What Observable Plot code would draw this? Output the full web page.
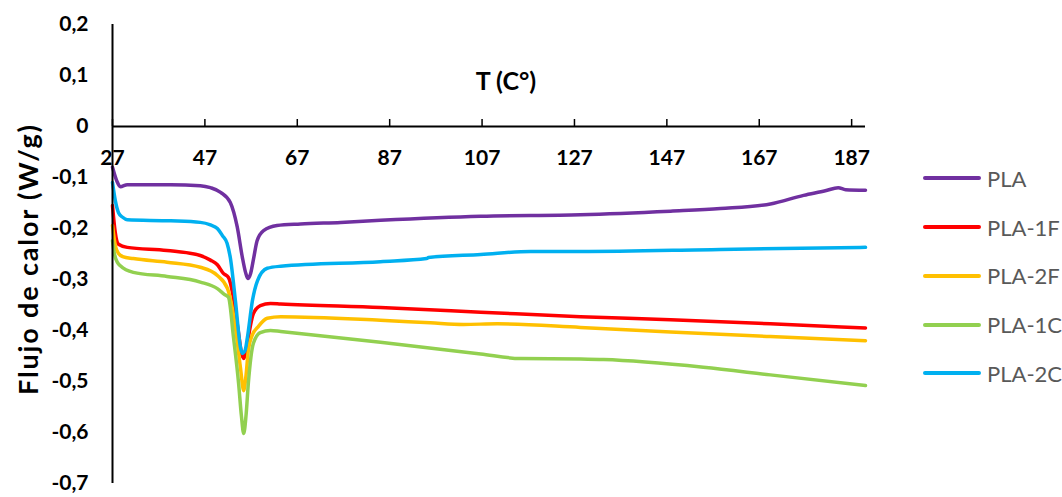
<!DOCTYPE html>
<html>
<head>
<meta charset="utf-8">
<script src="https://cdn.jsdelivr.net/npm/d3@7"></script>
<script src="https://cdn.jsdelivr.net/npm/@observablehq/plot@0.6"></script>
<style>
  html, body { margin: 0; padding: 0; background: #fff; }
  #wrap { position: relative; width: 1062px; height: 497px; }
  #legend { position: absolute; left: 923px; top: 154px; font-family: Lato, "Open Sans", sans-serif; font-size: 22px; color: #595959; }
  .row { height: 48.75px; display: flex; align-items: center; }
  .sw { width: 58px; height: 4px; border-radius: 2px; margin-right: 6px; }
</style>
</head>
<body>
<div id="wrap"></div>
<script>
// ---- data ----
const seriesNames = ["PLA", "PLA-1F", "PLA-2F", "PLA-1C", "PLA-2C"];
const seriesColors = ["#7030A0", "#FF0000", "#FFC000", "#92D050", "#00B0F0"];
const xTicks = [27, 47, 67, 87, 107, 127, 147, 167, 187];
const yTicks = [-0.7, -0.6, -0.5, -0.4, -0.3, -0.2, -0.1, 0, 0.1, 0.2];
const xTitle = "T (C°)";
const yTitle = "Flujo de calor (W/g)";

const T_PLA = [27, 27.9, 28.7, 30.2, 39.6, 46.0, 48.2, 50.4, 52.5, 54.0, 55.1, 55.8, 56.3, 56.9, 57.6, 58.3, 59.7, 62.6, 67.7, 76.4, 85.0, 106.7, 128.3, 147.8, 158.6, 169.4, 176.6, 181.3, 184.1, 185.7, 190];
const PLA   = [-0.080, -0.106, -0.118, -0.114, -0.114, -0.116, -0.120, -0.129, -0.149, -0.197, -0.256, -0.286, -0.298, -0.288, -0.256, -0.224, -0.204, -0.194, -0.191, -0.188, -0.184, -0.176, -0.173, -0.166, -0.161, -0.152, -0.135, -0.126, -0.120, -0.124, -0.125];

const T_1F = [27, 27.6, 28.3, 30.2, 38.8, 46.0, 48.2, 49.7, 51.0, 52.1, 53.0, 53.6, 54.3, 54.9, 55.4, 55.9, 56.4, 57.5, 59.0, 61.2, 63.4, 85.0, 106.7, 128.3, 147.8, 169.4, 190];
const PLA_1F = [-0.155, -0.208, -0.231, -0.237, -0.243, -0.253, -0.262, -0.271, -0.288, -0.296, -0.327, -0.361, -0.406, -0.443, -0.455, -0.443, -0.414, -0.367, -0.351, -0.347, -0.348, -0.355, -0.364, -0.373, -0.379, -0.387, -0.395];

const T_2F = [27, 27.6, 28.3, 29.2, 31.5, 38.8, 46.0, 49.7, 51.9, 53.6, 54.7, 55.4, 55.9, 56.4, 57.3, 58.4, 60.5, 63.4, 85.0, 95.8, 103.0, 110.3, 128.3, 147.8, 169.4, 190];
const PLA_2F = [-0.194, -0.233, -0.249, -0.255, -0.259, -0.266, -0.276, -0.292, -0.318, -0.394, -0.473, -0.518, -0.488, -0.439, -0.408, -0.394, -0.376, -0.373, -0.380, -0.385, -0.388, -0.387, -0.394, -0.403, -0.412, -0.420];

const T_1C = [27, 27.4, 28.1, 28.7, 31.5, 38.8, 46.0, 49.7, 51.2, 52.1, 53.2, 54.3, 54.9, 55.4, 55.9, 56.4, 57.5, 59.0, 61.2, 63.4, 85.0, 106.7, 115.3, 128.3, 133.3, 154.9, 169.4, 190];
const PLA_1C = [-0.224, -0.249, -0.267, -0.273, -0.286, -0.294, -0.305, -0.318, -0.329, -0.335, -0.414, -0.504, -0.567, -0.602, -0.567, -0.504, -0.425, -0.404, -0.400, -0.402, -0.423, -0.446, -0.455, -0.456, -0.457, -0.472, -0.487, -0.508];

const T_2C = [27, 27.6, 28.3, 29.2, 30.2, 39.6, 46.0, 48.2, 49.7, 50.8, 51.8, 52.5, 53.6, 54.7, 55.1, 55.7, 56.2, 57.3, 58.4, 60.5, 63.4, 85.0, 95.0, 95.4, 106.7, 117.5, 128.3, 158.6, 190];
const PLA_2C = [-0.110, -0.145, -0.169, -0.178, -0.183, -0.185, -0.188, -0.193, -0.200, -0.214, -0.229, -0.257, -0.341, -0.433, -0.445, -0.439, -0.414, -0.341, -0.302, -0.278, -0.274, -0.265, -0.259, -0.257, -0.251, -0.245, -0.245, -0.241, -0.237];

const seriesT = [T_PLA, T_1F, T_2F, T_1C, T_2C];
const seriesV = [PLA, PLA_1F, PLA_2F, PLA_1C, PLA_2C];

// ---- table ----
const rows = [];
seriesNames.forEach((s, i) => {
  seriesT[i].forEach((t, j) => rows.push({ s, T: t, v: seriesV[i][j] }));
});

const fmt = d => (d === 0 ? "0" : d.toFixed(1).replace(".", ","));

const chart = Plot.plot({
  width: 1062,
  height: 497,
  marginLeft: 112,
  marginRight: 197,
  marginTop: 24,
  marginBottom: 14,
  style: { fontFamily: "Lato, 'Open Sans', sans-serif", fontWeight: "bold", color: "#000", background: "#fff" },
  x: { domain: [27, 190], axis: null },
  y: { domain: [-0.7, 0.2], axis: null },
  color: { domain: seriesNames, range: seriesColors },
  marks: [
    Plot.axisY(yTicks, { tickSize: 0, tickPadding: 24, tickFormat: fmt, fontSize: 21, label: null }),
    Plot.ruleY([0], { x1: 27, x2: 190, stroke: "#000", strokeWidth: 2 }),
    Plot.ruleX(xTicks, { x: d => d, y1: 0, y2: 0.0137, stroke: "#000", strokeWidth: 1.5 }),
    Plot.text(xTicks, { x: d => d, y: 0, dy: 32, text: d => String(d), fontSize: 21 }),
    Plot.text([xTitle], { frameAnchor: "top", dx: 17, dy: 48, fontSize: 25 }),
    Plot.text([yTitle], { frameAnchor: "left", textAnchor: "middle", dx: -83, dy: 6, rotate: -90, fontSize: 27 }),
    Plot.line(rows, { x: "T", y: "v", z: "s", stroke: "s", strokeWidth: 3.5, curve: "monotone-x", strokeLinejoin: "round" }),
    Plot.ruleX([27], { y1: -0.7, y2: 0.2, stroke: "#000", strokeWidth: 2 })
  ]
});

d3.select(chart).selectAll("text")
  .filter(function () { return this.textContent === yTitle; })
  .attr("textLength", 270)
  .attr("lengthAdjust", "spacing");

const wrap = document.getElementById("wrap");
wrap.appendChild(chart);

const legend = document.createElement("div");
legend.id = "legend";
seriesNames.forEach((s, i) => {
  const r = document.createElement("div");
  r.className = "row";
  const sw = document.createElement("div");
  sw.className = "sw";
  sw.style.background = seriesColors[i];
  const t = document.createElement("span");
  t.textContent = s;
  r.appendChild(sw);
  r.appendChild(t);
  legend.appendChild(r);
});
wrap.appendChild(legend);
</script>
</body>
</html>
